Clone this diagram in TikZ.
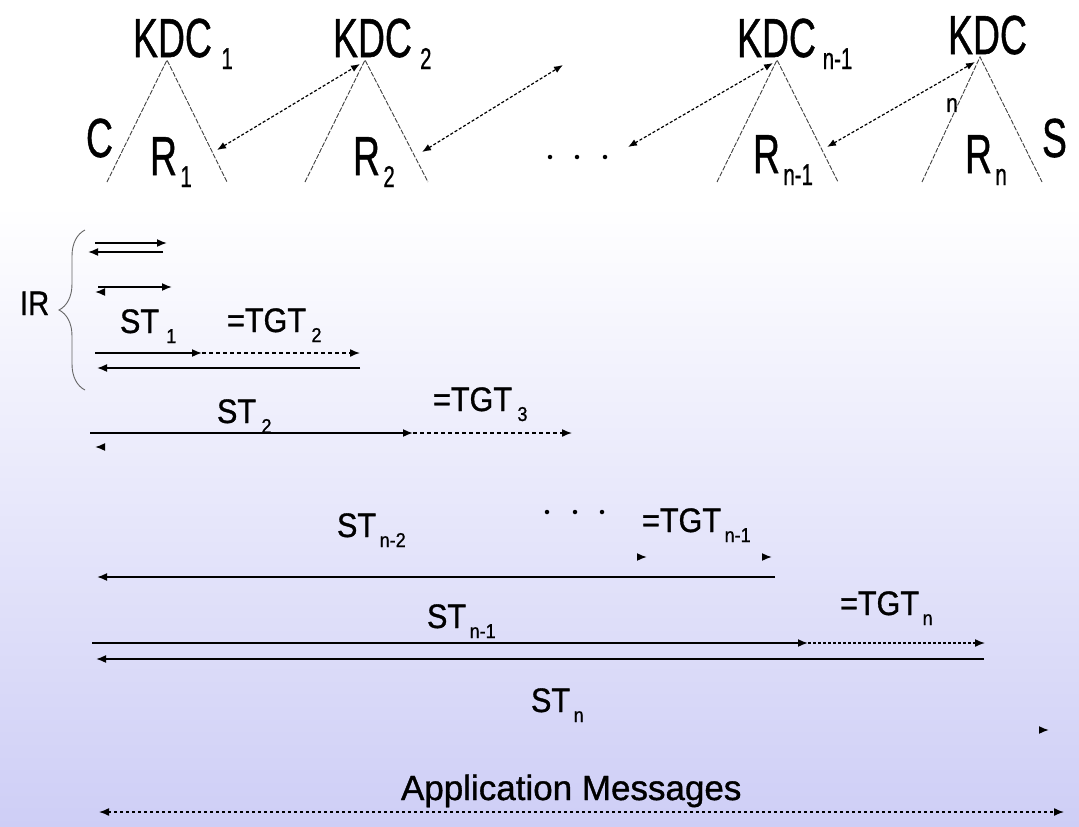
\documentclass[tikz,border=0pt]{standalone}
\usepackage{fontspec}
\setmainfont{Liberation Sans}[FakeBold=1]
\usepackage{graphicx}
\usetikzlibrary{arrows.meta,decorations.pathreplacing}
\definecolor{lav}{RGB}{206,206,246}
\newcommand\tlab[3][5pt]{\scalebox{0.68}[1]{\fontsize{55}{55}\selectfont #2\hspace{#1}\raisebox{-12pt}{\fontsize{30}{30}\selectfont #3}}}
\newcommand\blab[3][6pt]{\scalebox{0.9}[1]{\fontsize{34}{34}\selectfont #2\hspace{#1}\raisebox{-10pt}{\fontsize{20}{20}\selectfont #3}}}
\begin{document}
\begin{tikzpicture}[x=1pt,y=-1pt,
  lab/.style={anchor=base west,inner sep=0pt,outer sep=0pt},
  leg/.style={line width=0.9pt,draw=black!75,dash pattern=on 5pt off 1.5pt},
  link/.style={line width=1.2pt,dash pattern=on 3pt off 2pt,{Latex[length=9pt,width=7pt]}-{Latex[length=9pt,width=7pt]}},
  msg/.style={line width=1.7pt,-{Latex[length=10pt,width=8pt]}},
  tgt/.style={line width=1.5pt,dash pattern=on 4pt off 3pt,-{Latex[length=10pt,width=8pt]}},
  dot/.style={circle,fill=black,inner sep=0pt,minimum size=4.5pt}]
\useasboundingbox (0,0) rectangle (1079,827);
\fill[white] (0,0) rectangle (1079,205);
\shade[top color=white,bottom color=lav] (0,205) rectangle (1079,827);

% ---- trees
\coordinate (a1) at (167,60); \coordinate (l1) at (107,182); \coordinate (r1) at (227,182);
\coordinate (a2) at (365,60); \coordinate (l2) at (305,182); \coordinate (r2) at (428,182);
\coordinate (a3) at (777,60); \coordinate (l3) at (717,182); \coordinate (r3) at (838,182);
\coordinate (a4) at (980,57); \coordinate (l4) at (922,182); \coordinate (r4) at (1042,182);
\draw[leg] (l1) -- (a1) -- (r1);
\draw[leg] (l2) -- (a2) -- (r2);
\draw[leg] (l3) -- (a3) -- (r3);
\draw[leg] (l4) -- (a4) -- (r4);

\node[lab] (kdc1) at (133,57) {\tlab[14pt]{KDC}{1}};
\node[lab] (kdc2) at (333,57) {\tlab[12pt]{KDC}{2}};
\node[lab] (kdc3) at (737,57) {\tlab[10pt]{KDC}{n-1}};
\node[lab] (kdc4) at (948,54) {\tlab{KDC}{}};
\node[lab] (cl) at (86,157) {\tlab{C}{}};
\node[lab] (sl) at (1042,157) {\tlab{S}{}};
\node[lab] (rr1) at (150,175) {\tlab{R}{1}};
\node[lab] (rr2) at (353,175) {\tlab{R}{2}};
\node[lab] (rr3) at (753,173) {\tlab{R}{n-1}};
\node[lab] (rr4) at (965,173) {\tlab{R}{n}};
\node (nl) at (952,105) {\scalebox{0.8}[1]{\fontsize{26}{26}\selectfont n}};

\coordinate (p1) at (217,150); \coordinate (q1) at (360,64);
\coordinate (p2) at (422,152); \coordinate (q2) at (563,65);
\coordinate (p3) at (628,147); \coordinate (q3) at (773,63);
\coordinate (p4) at (827,147); \coordinate (q4) at (975,62);
\draw[link] (p1) -- (q1);
\draw[link] (p2) -- (q2);
\draw[link] (p3) -- (q3);
\draw[link] (p4) -- (q4);
\node[dot] (td1) at (550,157) {};
\node[dot] (td2) at (577,157) {};
\node[dot] (td3) at (605,157) {};

% ---- IR brace
\coordinate (bb) at (85,390); \coordinate (bt) at (85,230);
\draw[black!60,line width=0.9pt,decorate,decoration={brace,amplitude=26pt}] (bb) -- (bt);
\node[lab] (ir) at (20,315) {\scalebox{0.86}[1]{\fontsize{34}{34}\selectfont IR}};

% ---- message arrows
\coordinate (m1a) at (95,243);  \coordinate (m1b) at (167,243);
\coordinate (m2a) at (163,252); \coordinate (m2b) at (88,252);
\coordinate (m3a) at (98,287);  \coordinate (m3b) at (172,287);
\coordinate (m4a) at (100,292); \coordinate (m4b) at (95,292);
\draw[msg] (m1a) -- (m1b);
\draw[msg] (m2a) -- (m2b);
\draw[msg] (m3a) -- (m3b);
\draw[msg] (m4a) -- (m4b);

\node[lab] (st1) at (120,333) {\blab[8pt]{ST}{1}};
\node[lab] (tg2) at (227,332) {\blab{=TGT}{2}};
\coordinate (m5a) at (95,353); \coordinate (m5b) at (202,353); \coordinate (m5c) at (360,353);
\draw[msg] (m5a) -- (m5b);
\draw[tgt] (m5b) -- (m5c);
\coordinate (m6a) at (360,368); \coordinate (m6b) at (97,368);
\draw[msg] (m6a) -- (m6b);

\node[lab] (st2) at (217,423) {\blab{ST}{2}};
\node[lab] (tg3) at (433,411) {\blab{=TGT}{3}};
\coordinate (m7a) at (90,433); \coordinate (m7b) at (413,433); \coordinate (m7c) at (572,433);
\draw[msg] (m7a) -- (m7b);
\draw[tgt] (m7b) -- (m7c);
\coordinate (m8a) at (100,447); \coordinate (m8b) at (95,447);
\draw[msg] (m8a) -- (m8b);

\node[lab] (st3) at (337,537) {\blab[4pt]{ST}{n-2}};
\node[dot] (md1) at (547,512) {};
\node[dot] (md2) at (575,512) {};
\node[dot] (md3) at (602,512) {};
\node[lab] (tg4) at (642,532) {\blab[4pt]{=TGT}{n-1}};
\coordinate (m9a) at (641,557); \coordinate (m9b) at (647,557);
\coordinate (m9c) at (766,557); \coordinate (m9d) at (772,557);
\draw[msg] (m9a) -- (m9b);
\draw[msg] (m9c) -- (m9d);
\coordinate (m10a) at (775,577); \coordinate (m10b) at (97,577);
\draw[msg] (m10a) -- (m10b);

\node[lab] (st4) at (427,628) {\blab[4pt]{ST}{n-1}};
\node[lab] (tg5) at (840,615) {\blab[4pt]{=TGT}{n}};
\coordinate (m11a) at (92,643); \coordinate (m11b) at (808,643); \coordinate (m11c) at (985,643);
\draw[msg] (m11a) -- (m11b);
\draw[tgt,dash pattern=on 3pt off 2pt] (m11b) -- (m11c);
\coordinate (m12a) at (984,659); \coordinate (m12b) at (96,659);
\draw[msg] (m12a) -- (m12b);
\node[lab] (st5) at (531,712) {\blab[4pt]{ST}{n}};
\coordinate (m13a) at (1042,730); \coordinate (m13b) at (1049,730);
\draw[msg] (m13a) -- (m13b);

\node[lab] (app) at (401,800) {\fontsize{35}{35}\selectfont Application Messages};
\coordinate (m14a) at (99,812); \coordinate (m14b) at (1064,812);
\draw[line width=1.4pt,dash pattern=on 3pt off 3pt,{Latex[length=10pt,width=8pt]}-{Latex[length=10pt,width=8pt]}] (m14a) -- (m14b);
\end{tikzpicture}
\end{document}
